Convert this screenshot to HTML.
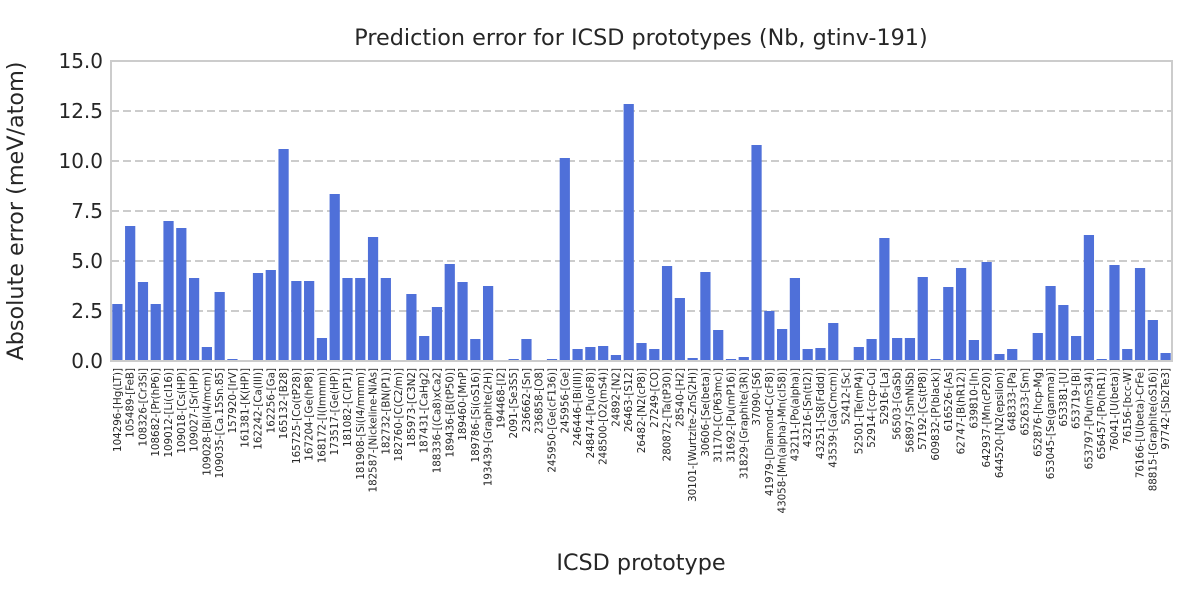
<!DOCTYPE html>
<html><head><meta charset="utf-8"><style>
body{margin:0;background:#fff;font-family:"Liberation Sans","DejaVu Sans",sans-serif;}
svg text{font-family:"DejaVu Sans","Liberation Sans",sans-serif;fill:#262626;}
</style></head><body>
<svg id="chart" width="1200" height="600" xmlns="http://www.w3.org/2000/svg">
<text x="641" y="45" font-size="22.3" text-anchor="middle">Prediction error for ICSD prototypes (Nb, gtinv-191)</text>
<text x="641" y="570" font-size="22.3" text-anchor="middle">ICSD prototype</text>
<text transform="translate(23,211) rotate(-90)" font-size="22.3" text-anchor="middle">Absolute error (meV/atom)</text>
<g id="grid"></g><g id="bars"></g><g id="yticks"></g><g id="xticks"></g>
<rect x="111" y="61" width="1061" height="300" fill="none" stroke="#cccccc" stroke-width="2"/>
</svg>
<script>
const categories = ["104296-[Hg(LT)]","105489-[FeB]","108326-[Cr3Si]","108682-[Pr(hP6)]","109012-[Li(cI16)]","109018-[Cs(HP)]","109027-[Sr(HP)]","109028-[Bi(I4/mcm)]","109035-[Ca.15Sn.85]","157920-[IrV]","161381-[K(HP)]","162242-[Ca(III)]","162256-[Ga]","165132-[B28]","165725-[Co(tP28)]","167204-[Ge(hP8)]","168172-[I(Immm)]","173517-[Ge(HP)]","181082-[C(P1)]","181908-[Si(I4/mmm)]","182587-[Nickeline-NiAs]","182732-[BN(P1)]","182760-[C(C2/m)]","185973-[C3N2]","187431-[CaHg2]","188336-[(Ca8)xCa2]","189436-[B(tP50)]","189460-[MnP]","189786-[Si(oS16)]","193439-[Graphite(2H)]","194468-[I2]","2091-[Se3S5]","236662-[Sn]","236858-[O8]","245950-[Ge(cF136)]","245956-[Ge]","246446-[Bi(III)]","248474-[Pu(oF8)]","248500-[O2(mS4)]","24892-[N2]","26463-[S12]","26482-[N2(cP8)]","27249-[CO]","280872-[Ta(tP30)]","28540-[H2]","30101-[Wurtzite-ZnS(2H)]","30606-[Se(beta)]","31170-[C(P63mc)]","31692-[Pu(mP16)]","31829-[Graphite(3R)]","37090-[S6]","41979-[Diamond-C(cF8)]","43058-[Mn(alpha)-Mn(cI58)]","43211-[Po(alpha)]","43216-[Sn(tI2)]","43251-[S8(Fddd)]","43539-[Ga(Cmcm)]","52412-[Sc]","52501-[Te(mP4)]","52914-[ccp-Cu]","52916-[La]","56503-[GaSb]","56897-[SmNiSb]","57192-[Cs(tP8)]","609832-[P(black)]","616526-[As]","62747-[B(hR12)]","639810-[In]","642937-[Mn(cP20)]","644520-[N2(epsilon)]","648333-[Pa]","652633-[Sm]","652876-[hcp-Mg]","653045-[Se(gamma)]","653381-[U]","653719-[Bi]","653797-[Pu(mS34)]","656457-[Po(hR1)]","76041-[U(beta)]","76156-[bcc-W]","76166-[U(beta)-CrFe]","88815-[Graphite(oS16)]","97742-[Sb2Te3]"];
const errors = [2.85,6.75,3.95,2.85,7.0,6.65,4.15,0.7,3.45,0.1,0.03,4.4,4.55,10.6,4.0,4.0,1.15,8.35,4.15,4.15,6.2,4.15,0.05,3.35,1.25,2.7,4.85,3.95,1.1,3.75,0.02,0.1,1.1,0.03,0.1,10.15,0.6,0.7,0.75,0.3,12.85,0.9,0.6,4.75,3.15,0.15,4.45,1.55,0.1,0.2,10.8,2.5,1.6,4.15,0.6,0.65,1.9,0.05,0.7,1.1,6.15,1.15,1.15,4.2,0.1,3.7,4.65,1.05,4.95,0.35,0.6,0.02,1.4,3.75,2.8,1.25,6.3,0.1,4.8,0.6,4.65,2.05,0.4];
const yTicks = [0,2.5,5,7.5,10,12.5,15];
const yTickLabels = ["0.0","2.5","5.0","7.5","10.0","12.5","15.0"];

const NS="http://www.w3.org/2000/svg";
const X0=111,X1=1172,Y0=361,Y1=61,YMAX=15;
const slot=(X1-X0)/categories.length;
function xScale(i){return X0+slot*(i+0.5);}
function yScale(v){return Y0-(v/YMAX)*(Y0-Y1);}
function mk(tag,attrs,parent){const e=document.createElementNS(NS,tag);for(const k in attrs)e.setAttribute(k,attrs[k]);parent.appendChild(e);return e;}
const grid=document.getElementById('grid'),bars=document.getElementById('bars'),yt=document.getElementById('yticks'),xt=document.getElementById('xticks');
yTicks.forEach((t,i)=>{
  const y=yScale(t);
  if(t>0&&t<YMAX){const l=mk('line',{x1:X0,x2:X1,y1:y,y2:y,stroke:'#cccccc','stroke-width':2,'stroke-dasharray':'8,4'},grid);
  
  }
  const tx=mk('text',{x:X0-8,y:y+7,'font-size':20,'text-anchor':'end'},yt);
  
  
  tx.textContent=yTickLabels[i];
});
const bw=slot*0.8;
errors.forEach((v,i)=>{
  const y=yScale(v);
  const r=mk('rect',{x:xScale(i)-bw/2,y:y,width:bw,height:Y0-y,fill:'#4f70d9'},bars);
  
  
});
categories.forEach((c,i)=>{
  const x=xScale(i)+3.5;
  const t=mk('text',{transform:`translate(${x},368) rotate(-90)`,'font-size':10.3,'text-anchor':'end'},xt);
  
  
  t.textContent=c;
});
</script>
</body></html>
